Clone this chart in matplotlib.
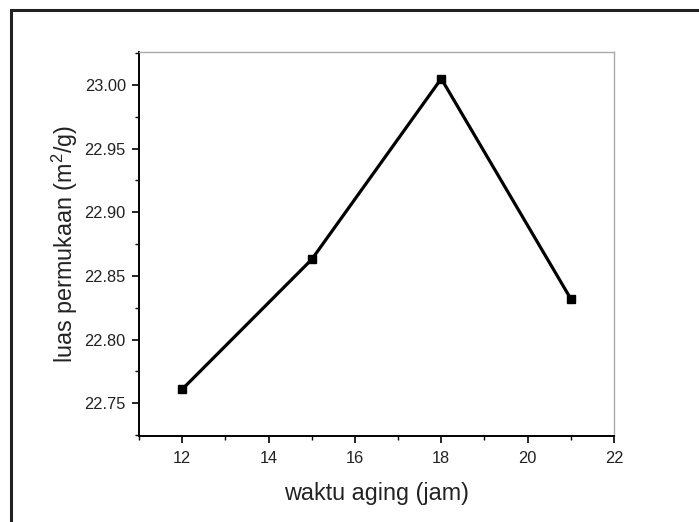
import matplotlib
matplotlib.use("Agg")
import matplotlib.pyplot as plt
from matplotlib.patches import Rectangle
from matplotlib.ticker import MultipleLocator, FormatStrFormatter

plt.rcParams['font.family'] = ['Liberation Sans', 'DejaVu Sans']
plt.rcParams['mathtext.fontset'] = 'custom'
plt.rcParams['mathtext.rm'] = 'Liberation Sans'
plt.rcParams['mathtext.default'] = 'regular'

waktu = [12, 15, 18, 21]
luas = [22.761, 22.863, 23.005, 22.832]
x_label = "waktu aging (jam)"
y_label = r"luas permukaan (m$^2$/g)"

fig = plt.figure(figsize=(6.99, 5.22), dpi=100)
# outer frame
fig.patches.append(Rectangle((11/699, -0.05), 1.2, (522 - 10)/522 + 0.05,
                             transform=fig.transFigure, fill=False,
                             edgecolor='#222222', linewidth=2.2))

ax = fig.add_axes([139/699, (522-436)/522, (614-139)/699, (436-52.3)/522])
ax.plot(waktu, luas, color='black', linewidth=2.3, marker='s',
        markersize=6.3, markerfacecolor='black', markeredgecolor='black')

ax.set_xlim(11, 22)
ax.set_ylim(22.7243, 23.0257)
ax.xaxis.set_major_locator(MultipleLocator(2))
ax.xaxis.set_minor_locator(MultipleLocator(1))
ax.yaxis.set_major_locator(MultipleLocator(0.05))
ax.yaxis.set_minor_locator(MultipleLocator(0.025))
ax.yaxis.set_major_formatter(FormatStrFormatter('%.2f'))

for s in ['left', 'bottom']:
    ax.spines[s].set_linewidth(1.4)
    ax.spines[s].set_color('black')
for s in ['top', 'right']:
    ax.spines[s].set_linewidth(1.0)
    ax.spines[s].set_color('#aaaaaa')

ax.tick_params(which='major', direction='out', length=5, width=1.2,
               labelsize=11.8, colors='black', labelcolor='#222222')
ax.tick_params(which='minor', direction='out', length=3, width=1.0, colors='black')
ax.tick_params(axis='x', which='major', pad=6)
ax.tick_params(axis='y', which='major', pad=4.5)

ax.set_xlabel(x_label, fontsize=16.8, color='#222222', labelpad=11)
ax.set_ylabel(y_label, fontsize=16.8, color='#222222', labelpad=3)

fig.savefig("out.png", dpi=100)
